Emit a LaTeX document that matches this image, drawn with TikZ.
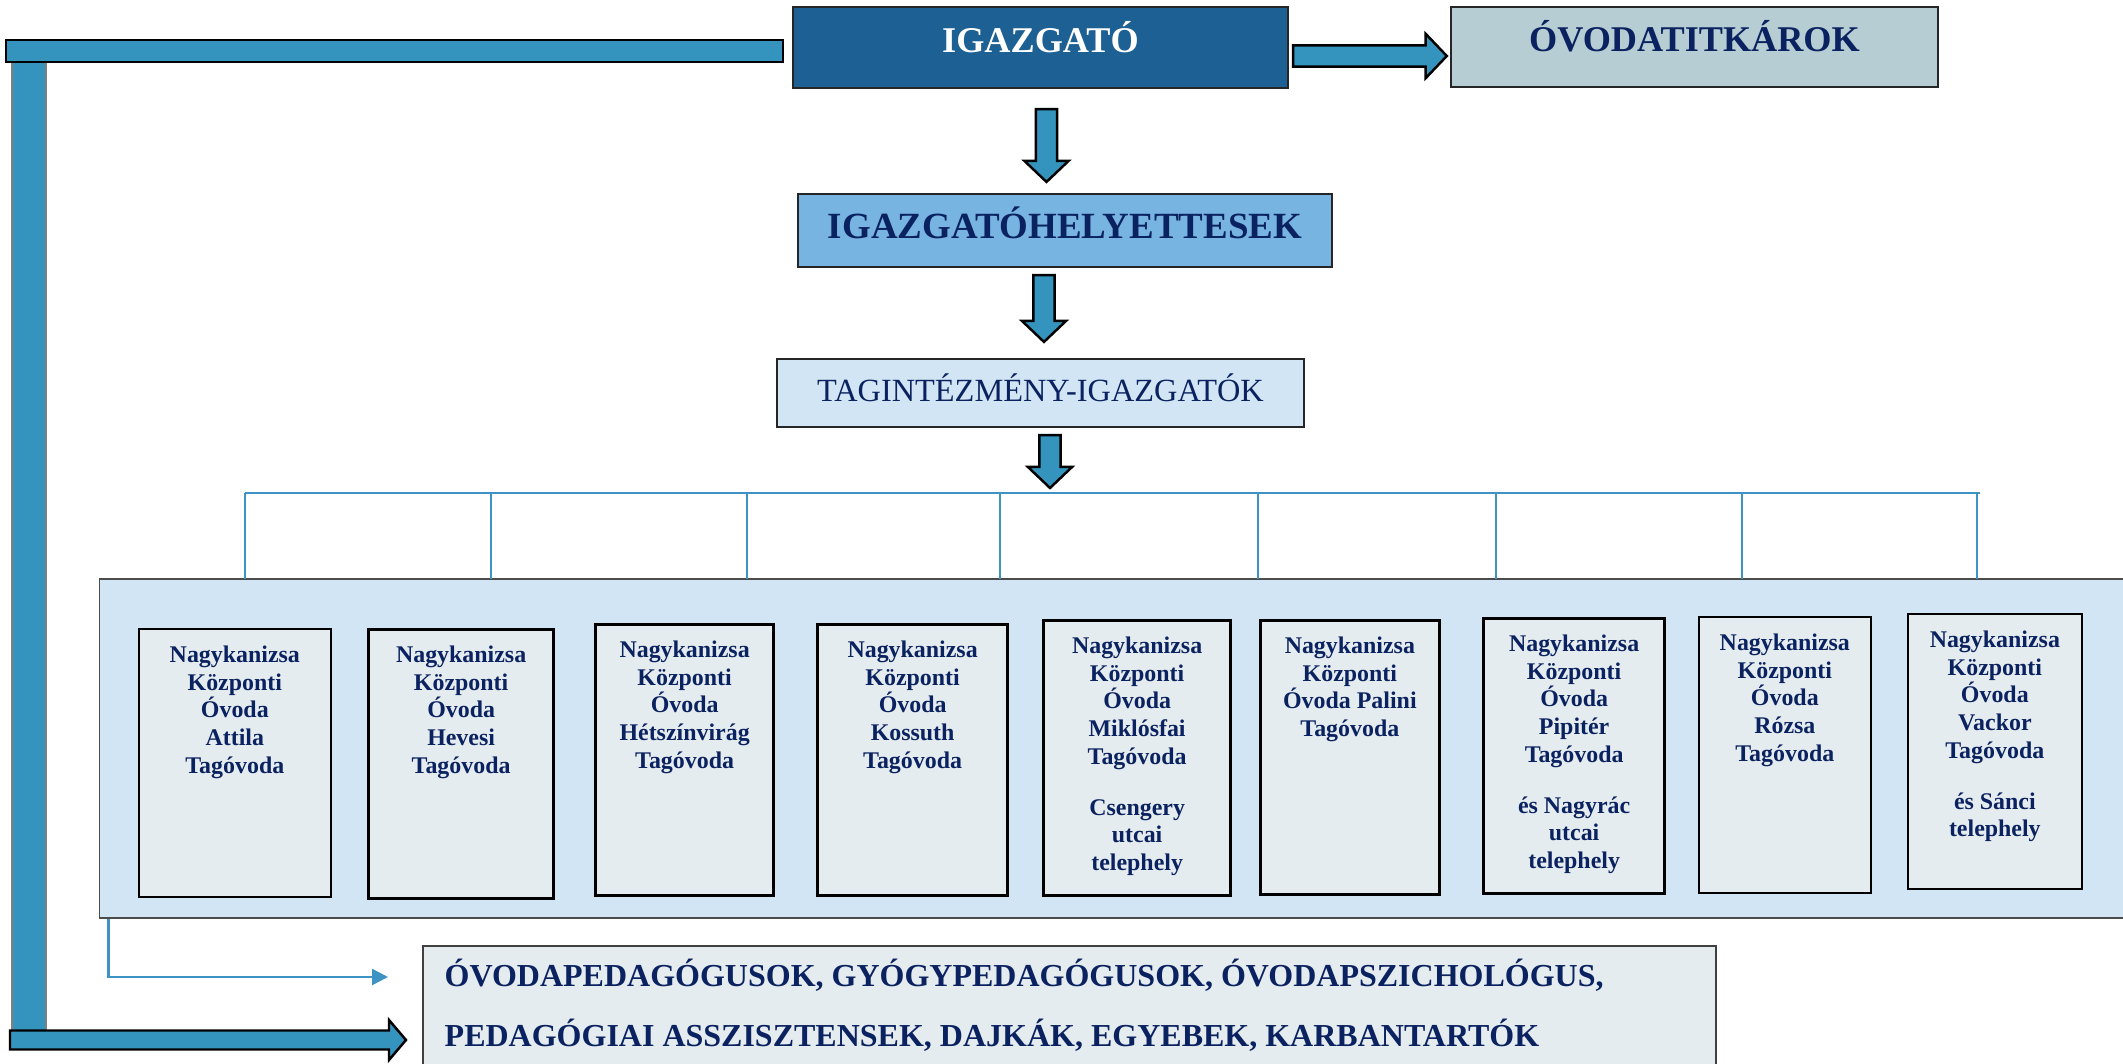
\documentclass[tikz,border=0pt]{standalone}
\usepackage{fontspec}
\setmainfont{Liberation Serif}
\usetikzlibrary{calc,arrows.meta}

\definecolor{sotetkek}{HTML}{1D6093}
\definecolor{nyilkek}{HTML}{3594BD}
\definecolor{titkarszin}{HTML}{B6CDD4}
\definecolor{helyettesszin}{HTML}{77B4E2}
\definecolor{halvanykek}{HTML}{D1E5F4}
\definecolor{dobozszin}{HTML}{E5ECF0}
\definecolor{betukek}{HTML}{0B2260}
\definecolor{vonalkek}{HTML}{3C93C4}

% lefele mutato vastag nyil: #1 kezdopont, #2 hegy
\newcommand{\lenyil}[2]{%
  \draw[blokk] let \p1=#1, \p2=#2 in
  (\x1-3pt,\y1) -- (\x1+3pt,\y1) -- (\x1+3pt,\y2+6pt) -- (\x1+6.3pt,\y2+6pt)
  -- (\x1,\y2) -- (\x1-6.3pt,\y2+6pt) -- (\x1-3pt,\y2+6pt) -- cycle;}
% jobbra mutato vastag nyil
\newcommand{\jobbranyil}[2]{%
  \draw[blokk] let \p1=#1, \p2=#2 in
  (\x1,\y1+3pt) -- (\x2-6pt,\y1+3pt) -- (\x2-6pt,\y1+6.3pt) -- (\x2,\y1)
  -- (\x2-6pt,\y1-6.3pt) -- (\x2-6pt,\y1-3pt) -- (\x1,\y1-3pt) -- cycle;}

\begin{document}
\begin{tikzpicture}[x=0.01cm,y=-0.01cm,>=stealth,
	doboz/.style={draw=black!85,line width=0.6pt,inner sep=0pt,text=betukek},
	fonok/.style={doboz,fill=sotetkek,text=white,
		font=\fontsize{10.3}{12}\selectfont\bfseries,text height=7pt,text depth=4.3pt},
	titkar/.style={doboz,fill=titkarszin,
		font=\fontsize{10.3}{12}\selectfont\bfseries,text height=7pt,text depth=4.3pt},
	helyettes/.style={doboz,fill=helyettesszin,
		font=\fontsize{10.5}{12}\selectfont\bfseries,text height=7pt,text depth=2.2pt},
	tagint/.style={doboz,fill=halvanykek,
		font=\fontsize{9.2}{11}\selectfont,text height=6.1pt,text depth=1pt},
	panel/.style={draw=black!70,line width=0.5pt,fill=halvanykek},
	kisdoboz/.style={draw=black,fill=dobozszin,inner sep=0pt},
	kisbetu/.style={inner sep=0pt,align=center,text=betukek,
		font=\fontsize{6.8}{7.9}\selectfont\bfseries},
	dolgozok/.style={draw=black!75,line width=0.5pt,fill=dobozszin,inner sep=0pt},
	nagybetu/.style={inner sep=0pt,text=betukek,font=\fontsize{9.1}{11}\selectfont\bfseries},
	vekony/.style={draw=vonalkek,line width=0.45pt},
	blokk/.style={fill=nyilkek,draw=black,line width=0.7pt,line join=miter}]
	\useasboundingbox (0,0) rectangle (2123,1064);
	% felso szint
	\node[fonok,minimum width=4.95cm,minimum height=0.81cm] (igazgato) at (1040.5,47.5) {IGAZGATÓ};
	\node[titkar,minimum width=4.87cm,minimum height=0.8cm] (titkarok) at (1694.5,47) {ÓVODATITKÁROK};
	\node[helyettes,minimum width=5.34cm,minimum height=0.73cm] (helyettesek) at (1065,230.5) {IGAZGATÓHELYETTESEK};
	\node[tagint,minimum width=5.27cm,minimum height=0.68cm] (tagintezmeny) at (1040.5,393) {TAGINTÉZMÉNY-IGAZGATÓK};
	% tagovodak
	\node[panel,minimum width=20.3cm,minimum height=3.39cm] (panel) at (1115,748.5) {};
	\foreach \i/\x/\y/\w/\h/\vast/\szoveg in {
		1/138/628/1.92/2.68/0.45pt/{Nagykanizsa\\Központi\\Óvoda\\Attila\\Tagóvoda},
		2/367/628/1.85/2.69/0.9pt/{Nagykanizsa\\Központi\\Óvoda\\Hevesi\\Tagóvoda},
		3/594/623/1.78/2.71/0.9pt/{Nagykanizsa\\Központi\\Óvoda\\Hétszínvirág\\Tagóvoda},
		4/816/623/1.90/2.71/0.9pt/{Nagykanizsa\\Központi\\Óvoda\\Kossuth\\Tagóvoda},
		5/1042/619/1.87/2.75/0.9pt/{Nagykanizsa\\Központi\\Óvoda\\Miklósfai\\Tagóvoda\\[6.5pt]Csengery\\utcai\\telephely},
		6/1259/619/1.79/2.74/0.75pt/{Nagykanizsa\\Központi\\Óvoda Palini\\Tagóvoda},
		7/1482/617/1.81/2.75/0.9pt/{Nagykanizsa\\Központi\\Óvoda\\Pipitér\\Tagóvoda\\[6.5pt]és Nagyrác\\utcai\\telephely},
		8/1698/616/1.72/2.76/0.45pt/{Nagykanizsa\\Központi\\Óvoda\\Rózsa\\Tagóvoda},
		9/1907/613/1.74/2.75/0.45pt/{Nagykanizsa\\Központi\\Óvoda\\Vackor\\Tagóvoda\\[6.5pt]és Sánci\\telephely}}
	{
		\node[kisdoboz,line width=\vast,anchor=north west,minimum width=\w cm,minimum height=\h cm] (k\i) at (\x,\y) {};
		\node[kisbetu,anchor=north] at ($(k\i.north)+(0,17)$) {\szoveg};
	}
	% also doboz
	\node[dolgozok,minimum width=12.92cm,minimum height=1.4cm,anchor=north west] (dolgozok) at (422,945) {};
	\node[nagybetu,anchor=base west] at ($(dolgozok.north west)+(22,42)$) {ÓVODAPEDAGÓGUSOK, GYÓGYPEDAGÓGUSOK, ÓVODAPSZICHOLÓGUS,};
	\node[nagybetu,anchor=base west] at ($(dolgozok.north west)+(22,102)$) {PEDAGÓGIAI ASSZISZTENSEK, DAJKÁK, EGYEBEK, KARBANTARTÓK};
	% vekony vonalak
	\coordinate (sinbal) at (245,493);
	\coordinate (sinjobb) at (1980,493);
	\draw[vekony] (sinbal) -- (sinjobb);
	\foreach \x in {245,491,747,1000,1258,1496,1742,1977}
		\draw[vekony] (\x,493) -- (\x,579);
	\coordinate (vegpont) at ($(dolgozok.north west)+(-34,32)$);
	\draw[vekony,line width=0.7pt,-{Triangle[length=4.5pt,width=4.5pt]}] ($(panel.south west)+(10,0)$) |- (vegpont);
	% vastag nyilak
	\lenyil{($(igazgato.south)+(6,20)$)}{($(helyettesek.north)+(0,-11)$)}
	\lenyil{($(helyettesek.south)+(-21,7)$)}{($(tagintezmeny.north)+(0,-16)$)}
	\lenyil{($(tagintezmeny.south)+(9.5,7)$)}{($(sinbal)+(0,-5)$)}
	\jobbranyil{($(igazgato.east)+(4,8.5)$)}{($(titkarok.west)+(-3,0)$)}
	% bal oldali hajlitott nyil
	\coordinate (bal) at ($(igazgato.west)+(-9,14.5)$);
	\coordinate (lent) at ($(dolgozok.north west)+(-16,95)$);
	\fill[nyilkek,draw=black!50,line width=0.3pt] (12,51) rectangle (46,1040);
	\draw[blokk] (6,40) rectangle (bal);
	\begin{scope}[shift={(lent)}]
		\draw[blokk] (-396,-9.5) -- (-17,-9.5) -- (-17,-20) -- (0,0) -- (-17,20)
			-- (-17,9.5) -- (-396,9.5) -- cycle;
	\end{scope}
\end{tikzpicture}
\end{document}
